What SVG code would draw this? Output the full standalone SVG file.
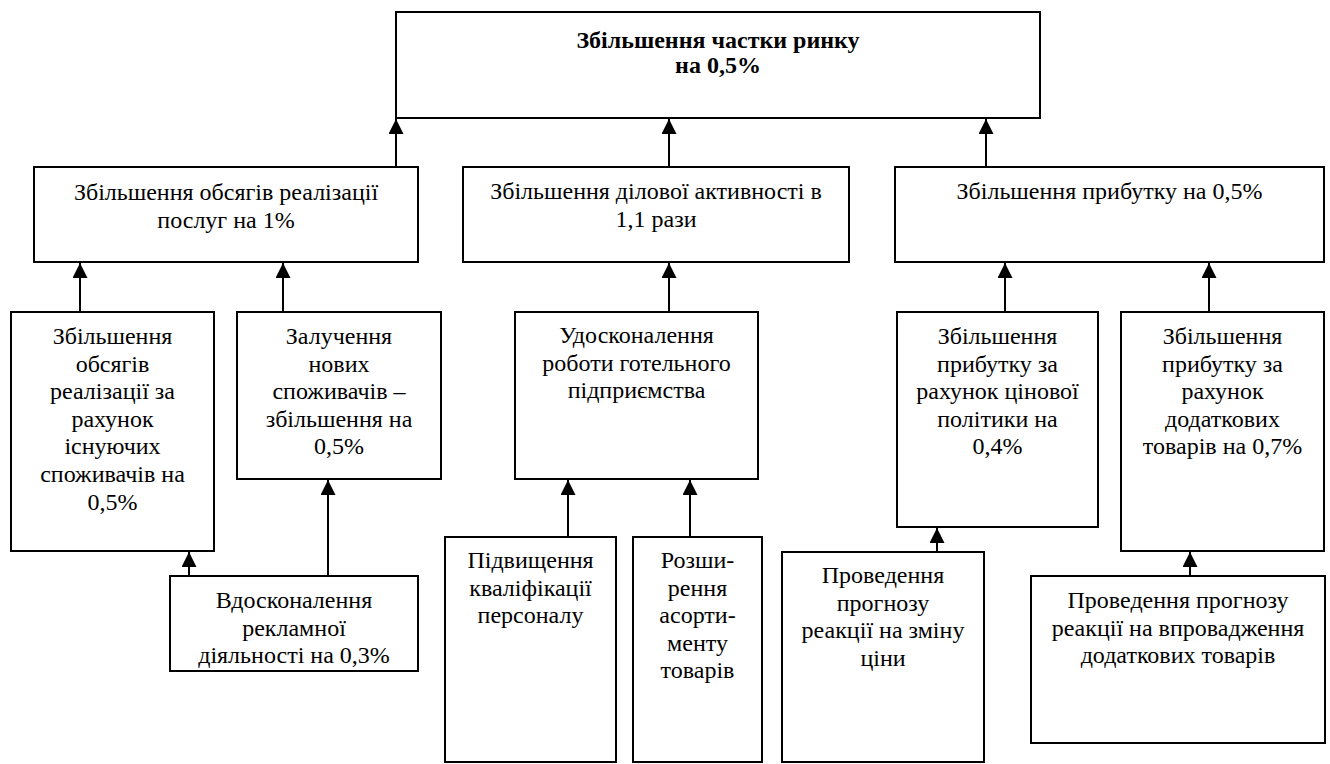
<svg xmlns="http://www.w3.org/2000/svg" width="1330" height="764" viewBox="0 0 1330 764">
<style>
.box{fill:#fff;stroke:#000;stroke-width:2}
.t{font-family:"Liberation Serif",serif;font-size:24px;fill:#000;text-anchor:middle}
.b{font-weight:bold}
.c{stroke:#000;stroke-width:2;fill:none;marker-end:url(#ah)}
</style>
<defs>
<marker id="ah" markerUnits="userSpaceOnUse" viewBox="0 0 15 15" markerWidth="15" markerHeight="15" refX="15" refY="7.5" orient="auto">
<path d="M0,0 L15,7.5 L0,15 z" fill="#000"/>
</marker>
</defs>
<rect width="1330" height="764" fill="#fff"/>
<g id="connectors">
<line class="c" x1="396" y1="167" x2="396" y2="119"/>
<line class="c" x1="669" y1="167" x2="669" y2="119"/>
<line class="c" x1="986" y1="167" x2="986" y2="119"/>
<line class="c" x1="80" y1="312" x2="80" y2="263"/>
<line class="c" x1="283" y1="312" x2="283" y2="263"/>
<line class="c" x1="669" y1="312" x2="669" y2="263"/>
<line class="c" x1="1005" y1="312" x2="1005" y2="263"/>
<line class="c" x1="1209" y1="312" x2="1209" y2="263"/>
<line class="c" x1="189" y1="576" x2="189" y2="552"/>
<line class="c" x1="328" y1="576" x2="328" y2="480"/>
<line class="c" x1="568" y1="537" x2="568" y2="480"/>
<line class="c" x1="690" y1="537" x2="690" y2="480"/>
<line class="c" x1="937" y1="552" x2="937" y2="528"/>
<line class="c" x1="1190" y1="576" x2="1190" y2="552"/>
</g>
<g id="top">
<rect class="box" x="396" y="12" width="644" height="106"/>
<text class="t b" x="718" y="48">Збільшення частки ринку</text>
<text class="t b" x="718" y="73">на 0,5%</text>
</g>
<g id="b1">
<rect class="box" x="34" y="167" width="384" height="95"/>
<text class="t" x="226" y="200">Збільшення обсягів реалізації</text>
<text class="t" x="226" y="227.5">послуг на 1%</text>
</g>
<g id="b2">
<rect class="box" x="463" y="167" width="386" height="95"/>
<text class="t" x="656" y="199">Збільшення ділової активності в</text>
<text class="t" x="656" y="227">1,1 рази</text>
</g>
<g id="b3">
<rect class="box" x="895" y="167" width="429" height="95"/>
<text class="t" x="1109.5" y="199">Збільшення прибутку на 0,5%</text>
</g>
<g id="a">
<rect class="box" x="11" y="312" width="203" height="239"/>
<text class="t" x="112.5" y="344">Збільшення</text>
<text class="t" x="112.5" y="371.6">обсягів</text>
<text class="t" x="112.5" y="399.2">реалізації за</text>
<text class="t" x="112.5" y="426.8">рахунок</text>
<text class="t" x="112.5" y="454.4">існуючих</text>
<text class="t" x="112.5" y="482">споживачів на</text>
<text class="t" x="112.5" y="509.6">0,5%</text>
</g>
<g id="b">
<rect class="box" x="237" y="312" width="204" height="167"/>
<text class="t" x="339" y="344">Залучення</text>
<text class="t" x="339" y="371.6">нових</text>
<text class="t" x="339" y="399.2">споживачів –</text>
<text class="t" x="339" y="426.8">збільшення на</text>
<text class="t" x="339" y="454.4">0,5%</text>
</g>
<g id="udosk">
<rect class="box" x="515" y="312" width="243" height="167"/>
<text class="t" x="636.5" y="343">Удосконалення</text>
<text class="t" x="636.5" y="370.6">роботи готельного</text>
<text class="t" x="636.5" y="398.2">підприємства</text>
</g>
<g id="c">
<rect class="box" x="897" y="312" width="201" height="215"/>
<text class="t" x="997.5" y="344">Збільшення</text>
<text class="t" x="997.5" y="371.6">прибутку за</text>
<text class="t" x="997.5" y="399.2">рахунок цінової</text>
<text class="t" x="997.5" y="426.8">політики на</text>
<text class="t" x="997.5" y="454.4">0,4%</text>
</g>
<g id="d">
<rect class="box" x="1121" y="312" width="203" height="239"/>
<text class="t" x="1222.5" y="344">Збільшення</text>
<text class="t" x="1222.5" y="371.6">прибутку за</text>
<text class="t" x="1222.5" y="399.2">рахунок</text>
<text class="t" x="1222.5" y="426.8">додаткових</text>
<text class="t" x="1222.5" y="454.4">товарів на 0,7%</text>
</g>
<g id="vdosk">
<rect class="box" x="170" y="576" width="248" height="95"/>
<text class="t" x="294" y="608">Вдосконалення</text>
<text class="t" x="294" y="635.6">рекламної</text>
<text class="t" x="294" y="663.2">діяльності на 0,3%</text>
</g>
<g id="pidv">
<rect class="box" x="445" y="537" width="171" height="225"/>
<text class="t" x="530.5" y="568">Підвищення</text>
<text class="t" x="530.5" y="595.6">кваліфікації</text>
<text class="t" x="530.5" y="623.2">персоналу</text>
</g>
<g id="rozsh">
<rect class="box" x="633" y="537" width="129" height="225"/>
<text class="t" x="697.5" y="568">Розши-</text>
<text class="t" x="697.5" y="595.6">рення</text>
<text class="t" x="697.5" y="623.2">асорти-</text>
<text class="t" x="697.5" y="650.8">менту</text>
<text class="t" x="697.5" y="678.4">товарів</text>
</g>
<g id="e">
<rect class="box" x="782" y="552" width="202" height="210"/>
<text class="t" x="883" y="583">Проведення</text>
<text class="t" x="883" y="610.6">прогнозу</text>
<text class="t" x="883" y="638.2">реакції на зміну</text>
<text class="t" x="883" y="665.8">ціни</text>
</g>
<g id="f">
<rect class="box" x="1031" y="576" width="294" height="167"/>
<text class="t" x="1178" y="608">Проведення прогнозу</text>
<text class="t" x="1178" y="635.6">реакції на впровадження</text>
<text class="t" x="1178" y="663.2">додаткових товарів</text>
</g>
</svg>
